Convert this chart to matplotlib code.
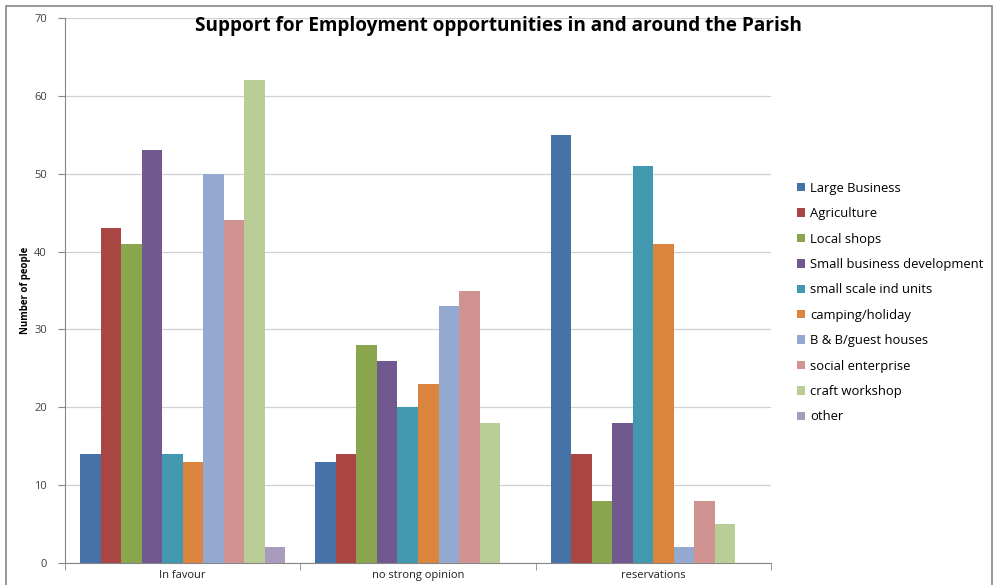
import numpy as np
import matplotlib.pyplot as plt
from matplotlib.patches import Rectangle

categories = ["In favour", "no strong opinion", "reservations"]
series = ["Large Business", "Agriculture", "Local shops", "Small business development",
          "small scale ind units", "camping/holiday", "B & B/guest houses",
          "social enterprise", "craft workshop", "other"]
large_business = [14, 13, 55]
agriculture = [43, 14, 14]
local_shops = [41, 28, 8]
small_business = [53, 26, 18]
small_scale = [14, 20, 51]
camping = [13, 23, 41]
bnb = [50, 33, 2]
social_enterprise = [44, 35, 8]
craft_workshop = [62, 18, 5]
other = [2, 0, 0]
values = [large_business, agriculture, local_shops, small_business, small_scale,
          camping, bnb, social_enterprise, craft_workshop, other]
colors = ["#4572A7", "#AA4643", "#89A54E", "#71588F", "#4198AF",
          "#DB843D", "#93A9CF", "#D19392", "#B9CD96", "#A99BBD"]

plt.rcParams['font.family'] = ['Open Sans', 'DejaVu Sans']

W, H = 996, 585
fig = plt.figure(figsize=(W / 100, H / 100), dpi=100)
# outer chart border
fig.patches.append(Rectangle((6 / W, -0.05), (992 - 6) / W, 1.05 - 6 / H,
                             transform=fig.transFigure, fill=False,
                             edgecolor="#868686", linewidth=1.2))

ax = fig.add_axes([65 / W, (H - 563) / H, (771 - 65) / W, (563 - 18) / H])

n = len(series)
gap = 1.46
bw = 1 / (n + gap)
x = np.arange(len(categories))
for i, (name, vals, c) in enumerate(zip(series, values, colors)):
    pos = x - 0.5 + bw * gap / 2 + bw * (i + 0.5)
    ax.bar(pos, vals, width=bw, color=c, label=name, zorder=3)

ax.set_xlim(-0.5, len(categories) - 0.5)
ax.set_ylim(0, 70)
ax.set_yticks(range(0, 71, 10))
ax.tick_params(axis='y', labelsize=8, colors="#404040", length=5, color="#868686", pad=8)
ax.set_xticks(x)
ax.set_xticklabels(categories, fontsize=8, color="#202020")
ax.tick_params(axis='x', length=0, pad=5)
ax.set_xticks(np.arange(-0.5, len(categories), 1), minor=True)
ax.tick_params(axis='x', which='minor', length=5, color="#868686")
ax.grid(axis='y', color="#D0D0D0", linewidth=0.9, zorder=0)
for s in ['top', 'right']:
    ax.spines[s].set_visible(False)
ax.spines['left'].set_color("#868686")
ax.spines['bottom'].set_color("#868686")

ax.set_ylabel("Number of people", fontsize=7, fontweight='bold',
              fontstretch='condensed')
ax.yaxis.set_label_coords((31 - 65) / (771 - 65), 0.5)
fig.text(498 / W, 1 - 26 / H, "Support for Employment opportunities in and around the Parish",
         ha='center', va='center', fontsize=13.7, fontweight='bold')

handles, labels = ax.get_legend_handles_labels()
leg = fig.legend(handles, labels, loc='upper left', bbox_to_anchor=(785 / W, 1 - 170 / H),
                 frameon=False, fontsize=9.4, handlelength=0.6, handleheight=0.6,
                 handletextpad=0.45, labelspacing=0.95)

fig.savefig("out.png", dpi=100)
